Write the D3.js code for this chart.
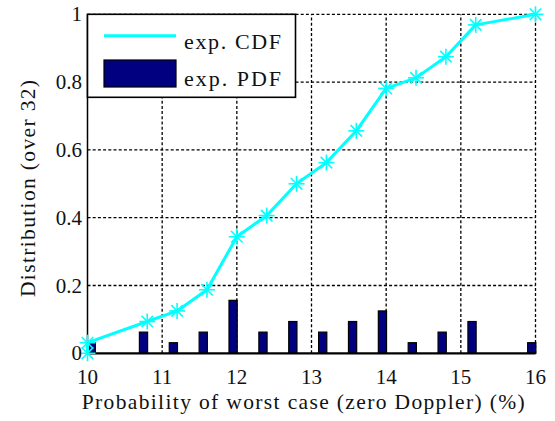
<!DOCTYPE html>
<html><head><meta charset="utf-8">
<script src="https://cdn.jsdelivr.net/npm/d3@7"></script>
<style>
html,body{margin:0;padding:0;background:#fff;}
svg{display:block;}
</style></head>
<body>
<script>
// ---- data ----
const cdfX = [10, 10, 10.8, 11.2, 11.6, 12.0, 12.4, 12.8, 13.2, 13.6, 14.0, 14.4, 14.8, 15.2, 16.0];
const cdfCounts = [0, 1, 3, 4, 6, 11, 13, 16, 18, 21, 25, 26, 28, 31, 32];
const pdfX = [10.05, 10.75, 11.15, 11.55, 11.95, 12.35, 12.75, 13.15, 13.55, 13.95, 14.35, 14.75, 15.15, 15.95];
const pdfCounts = [1, 2, 1, 2, 5, 2, 3, 2, 3, 4, 1, 2, 3, 1];
const total = 32;
const xTicks = [10, 11, 12, 13, 14, 15, 16];
const yTicks = [0, 0.2, 0.4, 0.6, 0.8, 1];
const legendLabels = ["exp. CDF", "exp. PDF"];
const xLabel = "Probability of worst case (zero Doppler) (%)";
const yLabel = "Distribution (over 32)";

const W = 555, H = 421;
const FONT = "'Liberation Serif', 'Times New Roman', serif";
const svg = d3.select("body").append("svg").attr("width", W).attr("height", H)
  .attr("font-family", FONT);
const x = d3.scaleLinear().domain([10, 16]).range([87.5, 535.5]);
const y = d3.scaleLinear().domain([0, 1]).range([353.3, 14.3]);
const barW = 0.11;

svg.append("defs").append("clipPath").attr("id", "clip")
  .append("rect").attr("x", x(10)).attr("y", y(1) - 10).attr("width", x(16) - x(10) + 10).attr("height", y(0) - y(1) + 12);

// grid
const grid = svg.append("g").attr("stroke", "#000").attr("stroke-width", 1.3).attr("stroke-dasharray", "3,2.2");
grid.selectAll("line.v").data(xTicks.slice(1)).join("line")
  .attr("x1", d => x(d)).attr("x2", d => x(d)).attr("y1", y(0)).attr("y2", y(1));
grid.selectAll("line.h").data(yTicks.slice(1)).join("line")
  .attr("y1", d => y(d)).attr("y2", d => y(d)).attr("x1", x(10)).attr("x2", x(16));

// bars
const pl = svg.append("g").attr("clip-path", "url(#clip)");
pl.selectAll("rect.bar").data(pdfX.map((v, i) => ({ v, c: pdfCounts[i] }))).join("rect")
  .attr("x", d => x(d.v - barW / 2)).attr("width", d => x(d.v + barW / 2) - x(d.v - barW / 2))
  .attr("y", d => y(d.c / total)).attr("height", d => y(0) - y(d.c / total))
  .attr("fill", "#000080").attr("stroke", "#000").attr("stroke-width", 1.2);

// axes lines
svg.append("line").attr("x1", x(10)).attr("x2", x(16)).attr("y1", y(0)).attr("y2", y(0))
  .attr("stroke", "#000").attr("stroke-width", 2.2);
svg.append("line").attr("x1", x(10)).attr("x2", x(10)).attr("y1", y(0)).attr("y2", y(1))
  .attr("stroke", "#000").attr("stroke-width", 1.5);

// CDF line
const pts = cdfX.map((v, i) => [v, cdfCounts[i] / total]);
svg.append("path").datum(pts)
  .attr("d", d3.line().x(d => x(d[0])).y(d => y(d[1])))
  .attr("fill", "none").attr("stroke", "#00ffff").attr("stroke-width", 3).attr("stroke-linejoin", "round");

// asterisk markers
const mk = 8;
const star = svg.append("g").attr("stroke", "#00ffff").attr("stroke-width", 1.6);
pts.forEach(p => {
  const cx = x(p[0]), cy = y(p[1]);
  star.append("line").attr("x1", cx - mk).attr("x2", cx + mk).attr("y1", cy).attr("y2", cy);
  star.append("line").attr("x1", cx).attr("x2", cx).attr("y1", cy - mk).attr("y2", cy + mk);
  const d = mk * 0.72;
  star.append("line").attr("x1", cx - d).attr("x2", cx + d).attr("y1", cy - d).attr("y2", cy + d);
  star.append("line").attr("x1", cx - d).attr("x2", cx + d).attr("y1", cy + d).attr("y2", cy - d);
});

// tick labels
const fs = 21;
svg.append("g").selectAll("text").data(xTicks).join("text")
  .attr("x", d => x(d)).attr("y", 384).attr("text-anchor", "middle")
  .attr("font-size", fs).attr("fill", "#111").text(d => d);
svg.append("g").selectAll("text").data(yTicks).join("text")
  .attr("x", 82).attr("y", d => y(d) + 7).attr("text-anchor", "end")
  .attr("font-size", fs).attr("fill", "#111").text(d => d);

// fit helper: grow font up to maxFs, then spread remaining with spacing
function fit(sel, target, baseFs, maxFs) {
  sel.attr("font-size", baseFs);
  const len = sel.node().getComputedTextLength();
  const f = Math.min(maxFs, baseFs * target / len);
  sel.attr("font-size", f);
  const len2 = sel.node().getComputedTextLength();
  if (len2 < target - 1) sel.attr("textLength", target).attr("lengthAdjust", "spacing");
}

// axis labels
const xl = svg.append("text").attr("x", 81.7).attr("y", 409).attr("fill", "#111").text(xLabel);
fit(xl, 443, 20, 21.5);
const yl = svg.append("text").attr("transform", "translate(35,297) rotate(-90)").attr("fill", "#111").text(yLabel);
fit(yl, 217, 20, 21.5);

// legend
const lg = svg.append("g");
lg.append("rect").attr("x", x(10)).attr("y", y(1)).attr("width", 208).attr("height", 83)
  .attr("fill", "#fff").attr("stroke", "#000").attr("stroke-width", 1.6);
lg.append("line").attr("x1", 104).attr("x2", 176).attr("y1", 35.7).attr("y2", 35.7)
  .attr("stroke", "#00ffff").attr("stroke-width", 3);
lg.append("rect").attr("x", 104).attr("y", 60).attr("width", 72).attr("height", 27)
  .attr("fill", "#000080").attr("stroke", "#000").attr("stroke-width", 1.2);
lg.selectAll("text").data(legendLabels).join("text")
  .attr("x", 184).attr("y", (d, i) => i === 0 ? 49 : 86)
  .attr("fill", "#111").text(d => d)
  .each(function () { fit(d3.select(this), 97, 20, 22); });
</script>
</body></html>
